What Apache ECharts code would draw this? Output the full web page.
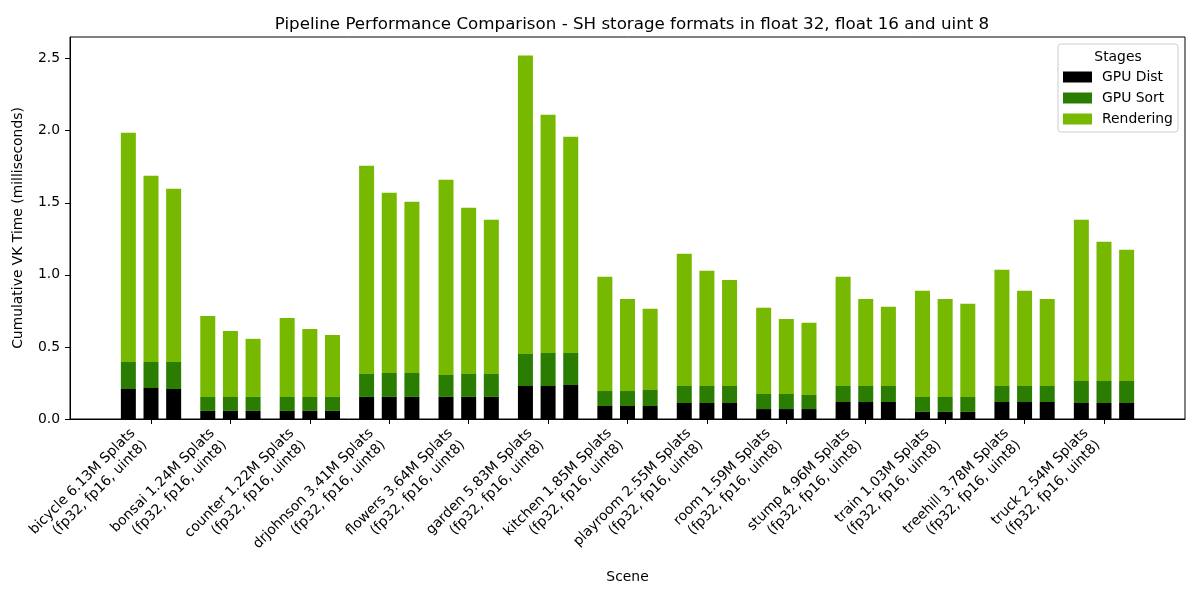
<!DOCTYPE html>
<html lang="en">
<head>
    <meta charset="UTF-8">
    <title>Pipeline Performance Comparison</title>
    <script src="https://cdn.jsdelivr.net/npm/echarts@6/dist/echarts.min.js"></script>
    <style>
        html, body { margin: 0; padding: 0; background: #fff; }
        #chart { width: 1200px; height: 600px; }
    </style>
</head>
<body>
<div id="chart"></div>
<script>
    // scenes and splat counts (millions)
    var scenes = ['bicycle', 'bonsai', 'counter', 'drjohnson', 'flowers', 'garden', 'kitchen',
        'playroom', 'room', 'stump', 'train', 'treehill', 'truck']
    var splats = ['6.13', '1.24', '1.22', '3.41', '3.64', '5.83', '1.85', '2.55', '1.59', '4.96', '1.03', '3.78', '2.54']
    var formats = ['fp32', 'fp16', 'uint8']
    var stages = ['GPU Dist', 'GPU Sort', 'Rendering']
    var stageColors = ['#000000', '#2a7d00', '#76b900']

    // GPU Dist (ms) per format
    var distFp32 = [0.208, 0.056, 0.056, 0.153, 0.153, 0.229, 0.090, 0.111, 0.069, 0.118, 0.049, 0.118, 0.111]
    var distFp16 = [0.215, 0.056, 0.056, 0.153, 0.153, 0.229, 0.090, 0.111, 0.069, 0.118, 0.049, 0.118, 0.111]
    var distUint8 = [0.208, 0.056, 0.056, 0.153, 0.153, 0.236, 0.090, 0.111, 0.069, 0.118, 0.049, 0.118, 0.111]
    // GPU Sort (ms) per format
    var sortFp32 = [0.188, 0.097, 0.097, 0.160, 0.153, 0.222, 0.104, 0.118, 0.105, 0.111, 0.104, 0.111, 0.153]
    var sortFp16 = [0.181, 0.097, 0.097, 0.166, 0.160, 0.229, 0.104, 0.118, 0.105, 0.111, 0.104, 0.111, 0.153]
    var sortUint8 = [0.188, 0.097, 0.097, 0.166, 0.160, 0.222, 0.111, 0.118, 0.098, 0.111, 0.104, 0.111, 0.153]
    // Rendering (ms) per format
    var rendFp32 = [1.590, 0.562, 0.548, 1.444, 1.354, 2.070, 0.792, 0.917, 0.597, 0.757, 0.736, 0.806, 1.118]
    var rendFp16 = [1.291, 0.458, 0.472, 1.250, 1.152, 1.653, 0.639, 0.799, 0.520, 0.604, 0.680, 0.660, 0.965]
    var rendUint8 = [1.201, 0.403, 0.430, 1.188, 1.069, 1.500, 0.563, 0.736, 0.500, 0.549, 0.646, 0.604, 0.910]

    var yTicks = [0, 0.5, 1.0, 1.5, 2.0, 2.5]

    var byFormat = {
        fp32: [distFp32, sortFp32, rendFp32],
        fp16: [distFp16, sortFp16, rendFp16],
        uint8: [distUint8, sortUint8, rendUint8]
    }

    var font = 'DejaVu Sans'
    var yMax = 2.65

    var labels = scenes.map(function (s, i) {
        return s + ' ' + splats[i] + 'M Splats\n(' + formats.join(', ') + ')'
    })

    var series = []
    formats.forEach(function (f) {
        byFormat[f].forEach(function (vals, k) {
            series.push({
                type: 'bar',
                name: stages[k],
                stack: f,
                xAxisIndex: 0,
                yAxisIndex: 0,
                barWidth: 15,
                barGap: '51%',
                itemStyle: { color: stageColors[k] },
                emphasis: { disabled: true },
                data: vals
            })
        })
    })

    var chart = echarts.init(document.getElementById('chart'))
    chart.setOption({
        animation: false,
        textStyle: { fontFamily: font },
        title: {
            text: 'Pipeline Performance Comparison - SH storage formats in float 32, float 16 and uint 8',
            left: 627, top: 11, textAlign: 'center',
            textStyle: { fontFamily: font, fontSize: 16.7, fontWeight: 'normal', color: '#000' }
        },
        grid: [
            // bars: category bands centred on the scene ticks
            { left: 111.3, right: 56.3, top: 37, bottom: 181, show: false },
            // outer frame with the y axis
            {
                left: 70, right: 15, top: 37, bottom: 181,
                show: true, borderColor: '#000', borderWidth: 1, backgroundColor: 'transparent'
            }
        ],
        legend: {
            orient: 'vertical', left: 1058, top: 65,
            itemWidth: 29, itemHeight: 11, itemGap: 7,
            data: stages,
            icon: 'rect',
            selectedMode: false,
            textStyle: { fontFamily: font, fontSize: 13.9, color: '#000', padding: [0, 0, 0, 5] }
        },
        graphic: [
            {
                type: 'rect', z: 0,
                shape: { x: 1058, y: 44, width: 120, height: 88, r: 3 },
                style: { fill: 'rgba(255,255,255,0.8)', stroke: '#cccccc', lineWidth: 1 }
            },
            {
                type: 'text', z: 1, x: 1118, y: 57,
                style: {
                    text: 'Stages', fontFamily: font, fontSize: 13.9, fill: '#000',
                    align: 'center', verticalAlign: 'middle'
                }
            }
        ],
        xAxis: [
            {
                type: 'category', gridIndex: 0,
                data: labels,
                axisLine: { show: false },
                axisTick: { show: true, alignWithLabel: true, length: 5, lineStyle: { color: '#000' } },
                splitLine: { show: false },
                axisLabel: {
                    interval: 0,
                    rotate: 45, align: 'right', verticalAlign: 'bottom', margin: 30,
                    fontFamily: font, fontSize: 13.9, lineHeight: 17, color: '#000'
                }
            },
            {
                type: 'value', gridIndex: 1,
                min: 0, max: 1,
                name: 'Scene', nameLocation: 'middle', nameGap: 151,
                nameTextStyle: { fontFamily: font, fontSize: 13.9, color: '#000' },
                axisLine: { show: true, lineStyle: { color: '#000' } },
                axisTick: { show: false },
                axisLabel: { show: false },
                splitLine: { show: false }
            }
        ],
        yAxis: [
            {
                type: 'value', gridIndex: 0,
                min: 0, max: yMax,
                show: false,
                splitLine: { show: false }
            },
            {
                type: 'value', gridIndex: 1,
                min: 0, max: yMax,
                name: 'Cumulative VK Time (milliseconds)', nameLocation: 'middle', nameGap: 45,
                nameTextStyle: { fontFamily: font, fontSize: 13.9, color: '#000' },
                axisLine: { show: true, onZero: false, lineStyle: { color: '#000' } },
                axisTick: { show: true, customValues: yTicks, length: 5, lineStyle: { color: '#000' } },
                splitLine: { show: false },
                axisLabel: {
                    customValues: yTicks, margin: 10,
                    fontFamily: font, fontSize: 13.9, color: '#000',
                    formatter: function (v) { return v.toFixed(1) }
                }
            }
        ],
        series: series
    })
</script>
</body>
</html>
